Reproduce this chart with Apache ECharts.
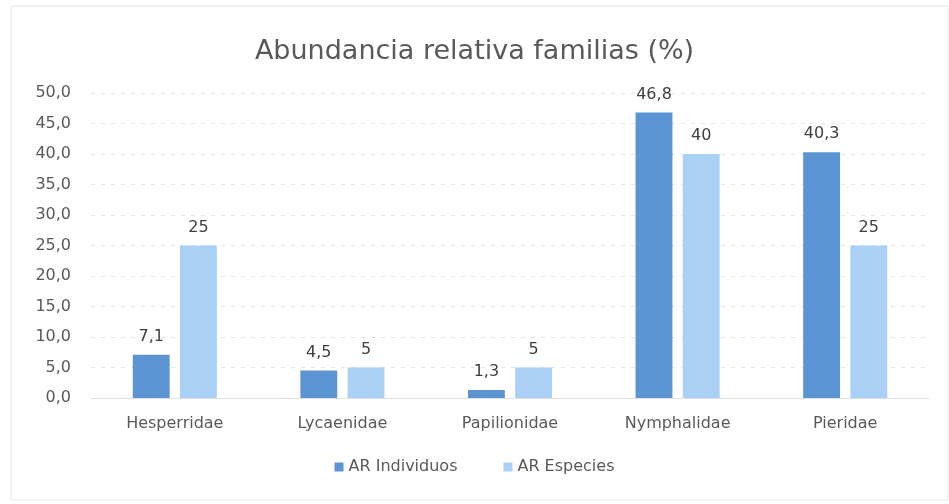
<!DOCTYPE html>
<html>
<head>
<meta charset="utf-8">
<script src="https://cdn.jsdelivr.net/npm/echarts@6/dist/echarts.min.js"></script>
<style>
  html, body { margin: 0; padding: 0; background: #fff; }
  #chart { width: 949px; height: 504px; }
</style>
</head>
<body>
<div id="chart"></div>
<script>
// datos
var familias = ["Hesperridae", "Lycaenidae", "Papilionidae", "Nymphalidae", "Pieridae"];
var arIndividuos = [7.1, 4.5, 1.3, 46.8, 40.3];
var arEspecies = [25, 5, 5, 40, 25];
var yTicks = [0, 5, 10, 15, 20, 25, 30, 35, 40, 45, 50];

var myChart = echarts.init(document.getElementById("chart"));
var fuente = "'DejaVu Sans', sans-serif";

function coma(v) {
  return String(v).replace(".", ",");
}

myChart.setOption({
  animation: false,
  textStyle: { fontFamily: fuente },
  title: {
    text: "Abundancia relativa familias (%)",
    left: "center",
    top: 33,
    textStyle: { fontSize: 27, fontWeight: "normal", color: "#595959", fontFamily: fuente }
  },
  graphic: [
    {
      type: "rect",
      shape: { x: 11, y: 6, width: 937, height: 494 },
      style: { fill: "none", stroke: "#e4e4e4", lineWidth: 1 },
      silent: true
    }
  ],
  legend: {
    bottom: 24,
    left: "center",
    itemWidth: 9,
    itemHeight: 9,
    itemGap: 46,
    icon: "rect",
    textStyle: { fontSize: 16, color: "#595959", fontFamily: fuente },
    data: ["AR Individuos", "AR Especies"]
  },
  grid: { left: 91, right: 20, top: 93, bottom: 106 },
  xAxis: {
    type: "category",
    data: familias,
    axisLine: { lineStyle: { color: "#e0e0e0" } },
    axisTick: { show: false },
    axisLabel: { fontSize: 16, color: "#595959", margin: 18, fontFamily: fuente }
  },
  yAxis: {
    type: "value",
    min: yTicks[0],
    max: yTicks[yTicks.length - 1],
    interval: 5,
    axisLine: { show: false },
    axisTick: { show: false },
    axisLabel: {
      fontSize: 16,
      color: "#595959",
      margin: 20,
      fontFamily: fuente,
      formatter: function (v) { return v.toFixed(1).replace(".", ","); }
    },
    splitLine: { lineStyle: { color: "#e4e4e4", type: [4, 6] } }
  },
  series: [
    {
      name: "AR Individuos",
      type: "bar",
      data: arIndividuos,
      barWidth: "22%",
      barGap: "28%",
      itemStyle: { color: "#5b93d3" },
      label: {
        show: true,
        position: "top",
        distance: 10,
        fontSize: 16,
        color: "#404040",
        fontFamily: fuente,
        formatter: function (p) { return coma(p.value); }
      }
    },
    {
      name: "AR Especies",
      type: "bar",
      data: arEspecies,
      barWidth: "22%",
      itemStyle: { color: "#aad0f6" },
      label: {
        show: true,
        position: "top",
        distance: 10,
        fontSize: 16,
        color: "#404040",
        fontFamily: fuente,
        formatter: function (p) { return coma(p.value); }
      }
    }
  ]
});
</script>
</body>
</html>
